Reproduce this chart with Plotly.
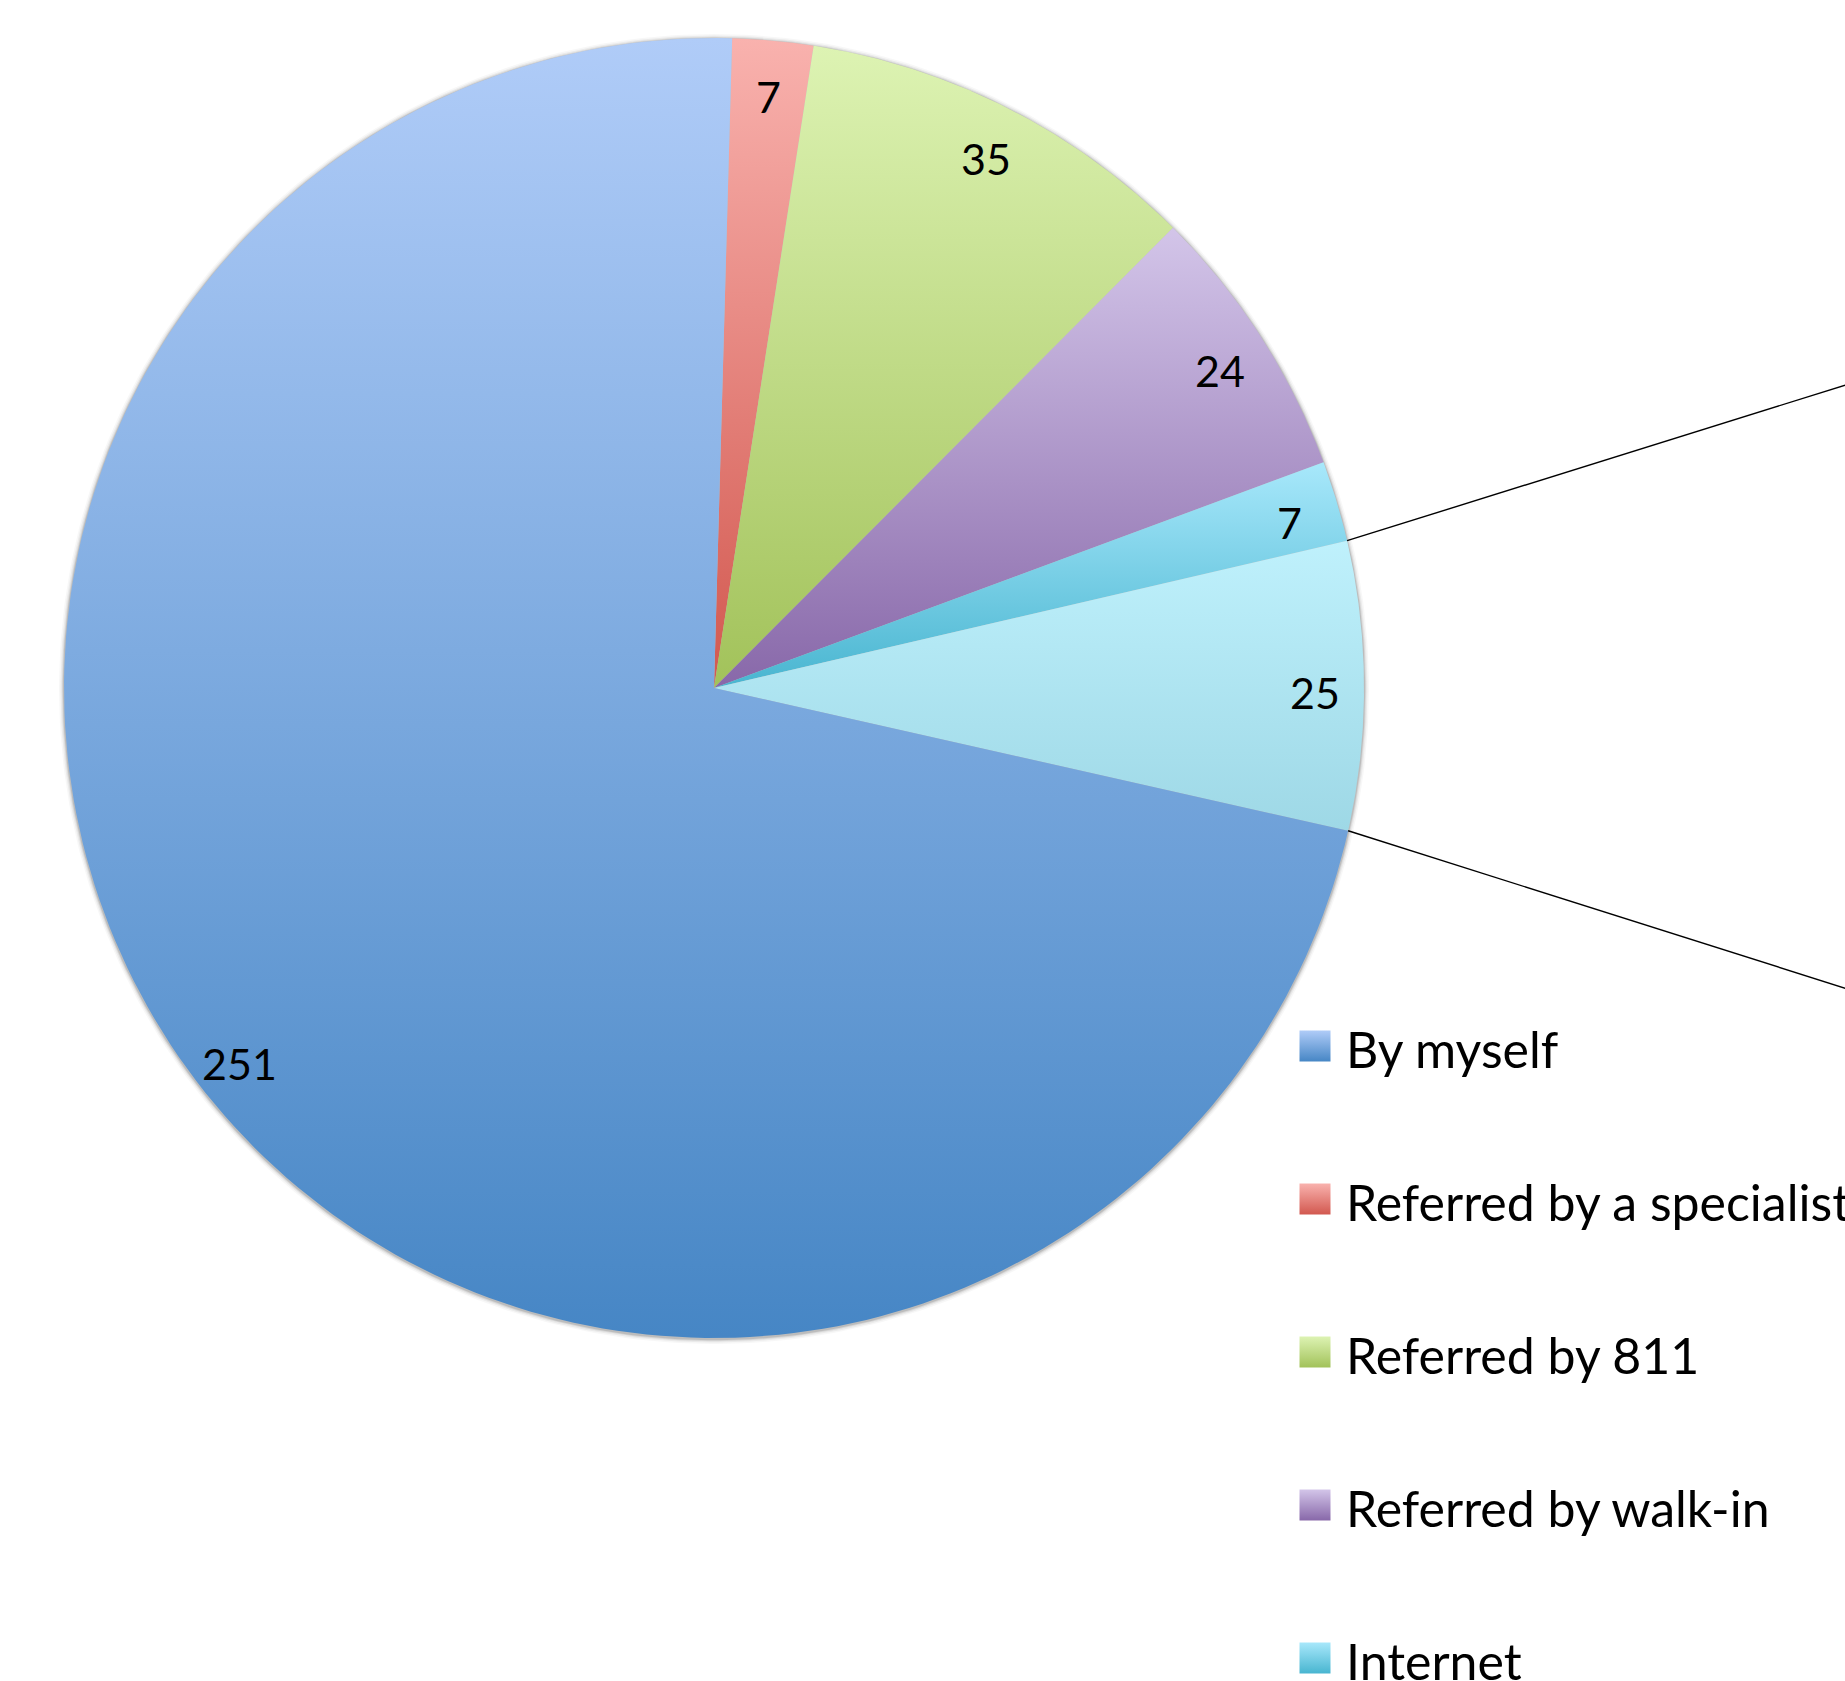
import numpy as np
import plotly.graph_objects as go

# Referral sources (pie-of-pie, primary pie); "Other" groups the split-out slice
labels = ["Referred by a specialist", "Referred by 811", "Referred by walk-in",
          "Internet", "Other", "By myself"]
values = [7, 35, 24, 7, 25, 251]
legend_labels = ["By myself", "Referred by a specialist", "Referred by 811",
                 "Referred by walk-in", "Internet"]

# gradient colours per slice: (top, bottom)
slice_colors = {
    "By myself": ("#B0CCF8", "#4686C5"),
    "Referred by a specialist": ("#F9B2AE", "#D2584F"),
    "Referred by 811": ("#DDF3B3", "#A2C25A"),
    "Referred by walk-in": ("#D3C5E9", "#8868A9"),
    "Internet": ("#A8E8FB", "#48B5D0"),
    "Other": ("#BFF1FC", "#9ED8E6"),
}

W, H = 1845, 1681
CX, CY, R = 714, 688, 650          # pie centre / radius in pixels
ROTATION = 1.6                     # degrees clockwise from 12 o'clock
SECOND_SIZE = 0.75                 # secondary pie radius, relative
GAP = 0.9                          # gap between pies, relative
FONT = "Lato, 'Open Sans', sans-serif"

x_range = [-CX / R, (W - CX) / R]
y_range = [-(H - CY) / R, CY / R]


def px(x, y):
    """pixel position -> axis units"""
    return (x - CX) / R, (CY - y) / R


def arc(a0, a1, r=1.0, n=200):
    t = np.radians(np.linspace(a0, a1, n))
    return r * np.sin(t), r * np.cos(t)


fig = go.Figure()

# soft drop shadow under the pie
for grow, alpha in [(5, 0.03), (3.5, 0.05), (2.2, 0.08), (1.2, 0.12)]:
    sx, sy = arc(0, 360, 1 + grow / R, 400)
    fig.add_trace(go.Scatter(x=sx, y=sy - 1.0 / R, mode="lines", fill="toself",
                             fillcolor=f"rgba(0,0,0,{alpha})", line=dict(width=0),
                             hoverinfo="skip", showlegend=False))

total = sum(values)
angles = np.concatenate([[0], np.cumsum(values)]) / total * 360 + ROTATION
edge = {}
for i, (lab, v) in enumerate(zip(labels, values)):
    a0, a1 = angles[i], angles[i + 1]
    ax_, ay_ = arc(a0, a1)
    xs = np.concatenate([[0], ax_, [0]])
    ys = np.concatenate([[0], ay_, [0]])
    top, bot = slice_colors[lab]
    fig.add_trace(go.Scatter(
        x=xs, y=ys, mode="lines", fill="toself", line=dict(width=0),
        fillgradient=dict(type="vertical", colorscale=[[0, bot], [1, top]]),
        name=lab, hoverinfo="name", showlegend=False))
    edge[lab] = (a0, a1)

# value labels near the rim
mid = (angles[:-1] + angles[1:]) / 2
lr = 0.925
for m, v in zip(mid, values):
    fig.add_annotation(x=lr * np.sin(np.radians(m)), y=lr * np.cos(np.radians(m)),
                       xref="x", yref="y", text=str(v), showarrow=False,
                       xanchor="center", yanchor="middle", yshift=-7,
                       font=dict(family=FONT, size=43, color="#000000"))

# connector lines from the "Other" slice towards the secondary pie
cx2 = 1 + GAP + SECOND_SIZE
for ang, sign in [(edge["Other"][0], 1), (edge["Other"][1], -1)]:
    x0, y0 = np.sin(np.radians(ang)), np.cos(np.radians(ang))
    fig.add_trace(go.Scatter(x=[x0, cx2], y=[y0, sign * SECOND_SIZE], mode="lines",
                             line=dict(color="#000000", width=1.4),
                             hoverinfo="skip", showlegend=False))

# legend (squares + labels)
leg_x, leg_y0, leg_dy = 1315, 1046, 153
for i, lab in enumerate(legend_labels):
    top, bot = slice_colors[lab]
    mx, my = px(leg_x, leg_y0 + i * leg_dy)
    fig.add_trace(go.Scatter(
        x=[mx], y=[my], mode="markers",
        marker=dict(symbol="square", size=31, color=top, line=dict(width=0),
                    gradient=dict(type="vertical", color=bot)),
        hoverinfo="skip", showlegend=False))
    fig.add_annotation(x=(1344 - CX) / R, y=my, xref="x", yref="y",
                       text=lab, showarrow=False, xanchor="left", yanchor="middle",
                       yshift=-3,
                       font=dict(family=FONT, size=50, color="#000000"))

fig.update_layout(
    width=W, height=H, autosize=False,
    margin=dict(l=0, r=0, t=0, b=0),
    paper_bgcolor="#FFFFFF", plot_bgcolor="#FFFFFF",
    xaxis=dict(range=x_range, visible=False, fixedrange=True),
    yaxis=dict(range=y_range, visible=False, fixedrange=True),
    showlegend=False,
)

fig.write_html("out.html")
